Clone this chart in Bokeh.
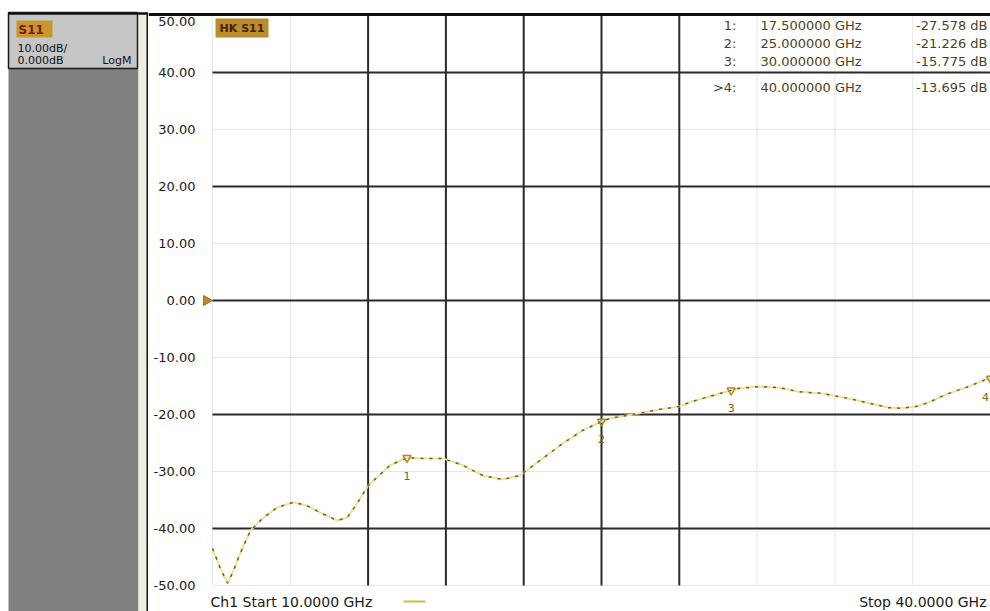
from bokeh.plotting import figure
from bokeh.layouts import row
from bokeh.models import Range1d, ColumnDataSource
from bokeh.core.properties import value
from bokeh.embed import file_html
from bokeh.resources import INLINE

# ---------------- data ----------------
freq_ghz = [10.0, 10.3, 10.58, 10.8, 10.96, 11.2, 11.46, 11.96, 12.5, 13.12, 13.65, 14.15,
            14.81, 15.19, 15.58, 16.0, 16.85, 17.5, 18.12, 18.88, 19.65, 20.42, 21.19, 21.85,
            22.62, 23.5, 24.27, 24.92, 25.31, 26.46, 27.23, 28.0, 28.5, 29.27, 29.81, 30.31,
            31.08, 31.85, 32.62, 33.5, 34.54, 35.42, 36.08, 36.58, 37.12, 37.62, 38.27, 39.15,
            39.85, 40.0]
s11_db = [-43.5, -47.0, -49.6, -47.5, -45.6, -43.0, -40.4, -38.1, -36.3, -35.4, -36.0, -37.2,
          -38.6, -38.1, -35.6, -32.5, -28.9, -27.6, -27.7, -27.7, -28.9, -30.7, -31.4, -30.7,
          -28.1, -25.1, -22.8, -21.4, -20.7, -19.8, -19.1, -18.6, -17.7, -16.7, -16.0, -15.4,
          -15.1, -15.3, -16.0, -16.3, -17.2, -18.1, -18.8, -18.9, -18.6, -17.9, -16.5, -15.1,
          -13.8, -13.7]

marker_ids = ["1", "2", "3", "4"]
marker_freq = [17.5, 25.0, 30.0, 40.0]
marker_db = [-27.578, -21.226, -15.775, -13.695]
marker_rows = ["1:", "2:", "3:", ">4:"]
marker_freq_txt = ["17.500000 GHz", "25.000000 GHz", "30.000000 GHz", "40.000000 GHz"]
marker_val_txt = ["-27.578 dB", "-21.226 dB", "-15.775 dB", "-13.695 dB"]

y_ticks = [50, 40, 30, 20, 10, 0, -10, -20, -30, -40, -50]
y_dark = [40, 20, 0, -20, -40]
y_faint = [30, 10, -10, -30, -50]
x_dark = [16, 19, 22, 25, 28]
x_faint = [10, 13, 31, 34, 37]
start_ghz, stop_ghz = 10.0, 40.0
ref_level = 0.0

# ---------------- geometry helpers (page pixels -> data) ----------------
PXG = 778 / 30.0      # px per GHz
PXD = 5.7             # px per dB
def gx(px):
    return 10 + (px - 212) / PXG
def gy(py):
    return (300 - py) / PXD

W_LEFT, W_MAIN, H = 148, 842, 611
FONT = value("DejaVu Sans")
TXT = "#1a1a1a"
TBL = "#4a4418"

p = figure(width=W_MAIN, height=H, x_range=Range1d(gx(W_LEFT), gx(W_LEFT + W_MAIN)),
           y_range=Range1d(gy(H), gy(0)), x_axis_type=None, y_axis_type=None,
           output_backend="svg", toolbar_location=None, min_border=0,
           outline_line_color=None, background_fill_color="white", border_fill_color="white")
p.grid.visible = False

# grid
p.segment(x0=[start_ghz] * len(y_faint), x1=[stop_ghz + 1] * len(y_faint), y0=y_faint, y1=y_faint,
          line_color="#e6e6e6", line_width=1)
p.segment(x0=x_faint, x1=x_faint, y0=[-50] * len(x_faint), y1=[50] * len(x_faint),
          line_color="#e6e6e6", line_width=1)
p.segment(x0=[start_ghz] * len(y_dark), x1=[stop_ghz + 1] * len(y_dark), y0=y_dark, y1=y_dark,
          line_color="#2a2a2a", line_width=2)
p.segment(x0=x_dark, x1=x_dark, y0=[-50] * len(x_dark), y1=[50] * len(x_dark),
          line_color="#2a2a2a", line_width=2)
# top frame
p.segment(x0=[gx(W_LEFT)], x1=[stop_ghz + 1], y0=[gy(14)], y1=[gy(14)], line_color="#111111",
          line_width=3)

# y labels
p.text(x=[gx(195)] * len(y_ticks), y=y_ticks, text=[f"{v:.2f}" for v in y_ticks],
       y_offset=[6] + [0] * (len(y_ticks) - 1),
       text_align="right", text_baseline="middle", text_font=FONT, text_font_size="13px",
       text_color=TXT)

# reference level arrow
p.scatter(x=[gx(206)], y=[ref_level], marker="triangle", angle=-1.5708, size=10,
          fill_color="#c08a28", line_color="#9a6a18")

# trace
src = ColumnDataSource(dict(f=freq_ghz, s=s11_db))
p.line("f", "s", source=src, line_color="#efe09a", line_width=2)
p.line("f", "s", source=src, line_color="#6e5f22", line_width=1.5, line_dash="3 6")

# markers
p.scatter(x=marker_freq, y=marker_db, marker="inverted_triangle", size=8,
          fill_color=None, line_color="#a88a20", line_width=1.5)
p.text(x=marker_freq, y=marker_db, text=marker_ids, y_offset=[18] * 4, x_offset=[0, 0, 0, -5],
       text_align="center", text_baseline="middle", text_font=FONT, text_font_size="11px",
       text_color="#7a6418")

# marker table
row_py = [25, 43, 61, 87]
p.text(x=[gx(736)] * 4, y=[gy(v) for v in row_py], text=marker_rows, text_align="right",
       text_baseline="middle", text_font=FONT, text_font_size="13px", text_color=TBL)
p.text(x=[gx(760)] * 4, y=[gy(v) for v in row_py], text=marker_freq_txt, text_align="left",
       text_baseline="middle", text_font=FONT, text_font_size="13px", text_color=TBL)
p.text(x=[gx(987)] * 4, y=[gy(v) for v in row_py], text=marker_val_txt, text_align="right",
       text_baseline="middle", text_font=FONT, text_font_size="13px", text_color=TBL)

# trace tag
p.quad(left=[gx(215)], right=[gx(268)], top=[gy(18)], bottom=[gy(37)],
       fill_color="#b98c2c", line_color=None)
p.text(x=[gx(241.5)], y=[gy(27.5)], text=["HK S11"], text_align="center", text_baseline="middle",
       text_font=FONT, text_font_size="11px", text_color="#4a2008", text_font_style="bold")

# bottom annotations
p.text(x=[gx(210)], y=[gy(601)], text=[f"Ch1 Start {start_ghz:.4f} GHz"], text_align="left",
       text_baseline="middle", text_font=FONT, text_font_size="14px", text_color=TXT)
p.segment(x0=[gx(403)], x1=[gx(425)], y0=[gy(601)], y1=[gy(601)], line_color="#d8b840",
          line_width=2)
p.text(x=[gx(986)], y=[gy(601)], text=[f"Stop {stop_ghz:.4f} GHz"], text_align="right",
       text_baseline="middle", text_font=FONT, text_font_size="14px", text_color=TXT)

# ---------------- left panel ----------------
lp = figure(width=W_LEFT, height=H, x_range=Range1d(0, W_LEFT), y_range=Range1d(H, 0),
            x_axis_type=None, y_axis_type=None, output_backend="svg", toolbar_location=None,
            min_border=0, outline_line_color=None, background_fill_color="white",
            border_fill_color="white")
lp.grid.visible = False
lp.quad(left=[8], right=[138], top=[12], bottom=[H], fill_color="#808080", line_color=None)
lp.quad(left=[8], right=[137], top=[12], bottom=[68], fill_color="#c6c6c6", line_color="#1a1a1a",
        line_width=1.5)
lp.quad(left=[138], right=[146], top=[12], bottom=[H], fill_color="#efece2", line_color=None)
lp.segment(x0=[147.5], x1=[147.5], y0=[13], y1=[H], line_color="#111111", line_width=3)
lp.segment(x0=[8], x1=[148], y0=[13], y1=[13], line_color="#111111", line_width=2.5)
lp.quad(left=[16], right=[52], top=[20], bottom=[37], fill_color="#c8962e", line_color=None)
lp.text(x=[18], y=[29], text=["S11"], text_baseline="middle", text_font=FONT,
        text_font_size="12px", text_font_style="bold", text_color="#7a1a08")
lp.text(x=[17], y=[48], text=["10.00dB/"], text_baseline="middle", text_font=FONT,
        text_font_size="11px", text_color="#111111")
lp.text(x=[17], y=[60], text=["0.000dB"], text_baseline="middle", text_font=FONT,
        text_font_size="11px", text_color="#111111")
lp.text(x=[131], y=[60], text=["LogM"], text_align="right", text_baseline="middle", text_font=FONT,
        text_font_size="11px", text_color="#111111")

layout = row(lp, p, spacing=0)
open("out.html", "w").write(file_html(layout, INLINE))
